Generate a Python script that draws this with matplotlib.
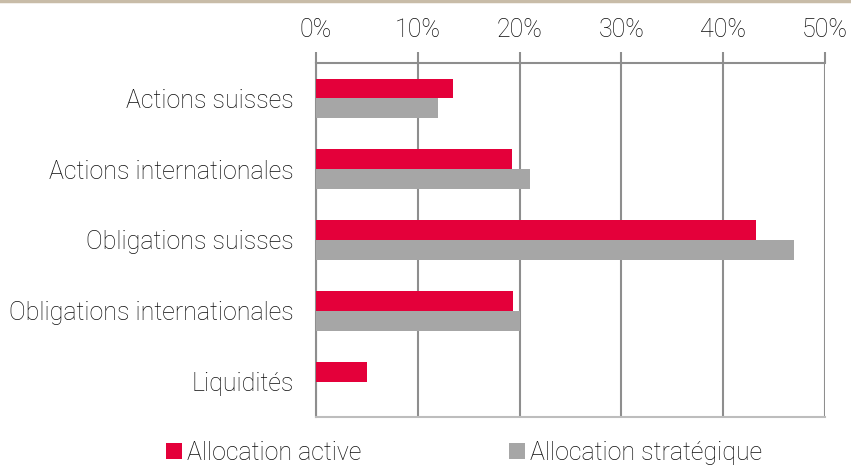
import matplotlib.pyplot as plt
import numpy as np

plt.rcParams['font.family'] = ['Roboto', 'DejaVu Sans']
plt.rcParams['font.weight'] = 'light'

# data (percent)
categories = ['Actions suisses', 'Actions internationales', 'Obligations suisses',
              'Obligations internationales', 'Liquidités']
active = [13.5, 19.3, 43.2, 19.4, 5.0]
strategic = [12.0, 21.0, 47.0, 20.0, 0.0]
ticks = [0, 10, 20, 30, 40, 50]
tick_labels = ['0%', '10%', '20%', '30%', '40%', '50%']

red = '#e4003a'
grey = '#a6a6a6'
grid_col = '#8e8e8e'
txt = '#0d0d0d'
fs = 18

fig = plt.figure(figsize=(8.51, 4.66), dpi=100)
ax = fig.add_axes([316 / 851, 1 - 417 / 466, (825 - 316) / 851, (417 - 63) / 466])

y = np.arange(len(categories))
h = 0.28
b1 = ax.barh(y - h / 2, active, height=h, color=red, label='Allocation active', zorder=3)
b2 = ax.barh(y + h / 2, strategic, height=h, color=grey, label='Allocation stratégique', zorder=3)

ax.set_xlim(0, 50)
ax.set_ylim(len(categories) - 0.5, -0.5)
ax.set_yticks(y)
ax.set_yticklabels(categories, fontsize=fs, color=txt, fontweight='light')
ax.set_xticks(ticks)
ax.set_xticklabels(tick_labels, fontsize=fs, color=txt, fontweight='light')
ax.xaxis.tick_top()
ax.tick_params(axis='x', length=8, width=1.5, color=grid_col, pad=7)
ax.tick_params(axis='y', length=0, pad=16)

ax.grid(axis='x', color=grid_col, linewidth=1.5, zorder=1)
ax.spines['right'].set_visible(False)
ax.spines['top'].set_color(grid_col)
ax.spines['top'].set_linewidth(1.5)
ax.spines['left'].set_color(grid_col)
ax.spines['left'].set_linewidth(1.5)
ax.spines['bottom'].set_color('#bdbdbd')
ax.spines['bottom'].set_linewidth(1.5)

# thin beige rule at the very top
fig.add_artist(plt.Line2D([0, 1], [0.998, 0.998], color='#c8bca8', linewidth=2.5))

fig.legend(handles=[b1, b2], loc='lower left', bbox_to_anchor=(166 / 851, 0.003),
           ncol=2, frameon=False, borderpad=0, borderaxespad=0,
           handlelength=0.64, handleheight=0.64, labelcolor=txt,
           handletextpad=0.2, columnspacing=5.9, prop={'size': fs, 'weight': 'light'})

fig.savefig('out.png', dpi=100)
